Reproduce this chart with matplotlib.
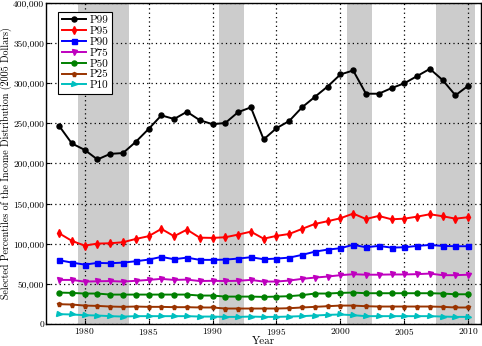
import matplotlib
matplotlib.use('Agg')
from matplotlib import pyplot as plt
from matplotlib.ticker import FuncFormatter
import numpy as np

plt.rcParams['font.family'] = 'serif'
plt.rcParams['font.serif'] = ['cmr10', 'DejaVu Serif']
plt.rcParams['axes.formatter.use_mathtext'] = True

years = list(range(1978, 2011))

p99 = [247000, 225000, 217000, 205000, 212000, 213000, 227000, 243000, 260000, 255500, 264500,
       254000, 249000, 250500, 264000, 270000, 230000, 244000, 253000, 270000, 283000, 296000,
       311000, 316000, 287000, 287000, 294000, 300000, 309000, 318000, 304000, 285000, 297000]
p95 = [113000, 103500, 97600, 100100, 100500, 101800, 105900, 109300, 118400, 109300, 117500,
       107500, 107200, 108000, 111300, 115000, 106200, 109700, 112100, 118400, 124600, 128000,
       131700, 137500, 130800, 134600, 130400, 131200, 133700, 136700, 134200, 131200, 133000]
p90 = [79400, 76400, 73900, 76000, 75600, 76400, 78100, 80100, 83500, 80600, 82600,
       79800, 79800, 80100, 81400, 83100, 80600, 81400, 82600, 86000, 90000, 92600,
       94300, 98600, 95500, 97200, 95100, 95500, 97200, 98400, 97200, 96800, 96800]
p75 = [54800, 54800, 52700, 53100, 53400, 52700, 53700, 54800, 56100, 54800, 55200,
       53400, 53700, 53400, 53700, 54800, 52700, 52800, 54000, 56100, 57700, 59000,
       60700, 61900, 61300, 61300, 61600, 61600, 62000, 62700, 60700, 60700, 61300]
p50 = [39000, 38600, 37800, 37800, 36500, 36500, 36500, 36500, 36500, 36500, 36500,
       35300, 35300, 34000, 34000, 34000, 33600, 34000, 34500, 35800, 37800, 37800,
       38600, 39000, 38200, 38200, 38200, 38200, 38200, 38200, 37800, 36900, 36900]
p25 = [24500, 24100, 22800, 22400, 21600, 21200, 21600, 21200, 21200, 20800, 20800,
       20400, 20400, 19100, 19100, 19100, 19100, 19100, 19500, 20400, 21200, 22000,
       22800, 22800, 22000, 21600, 21600, 21600, 21600, 21600, 21200, 20400, 20400]
p10 = [12100, 11700, 10800, 10400, 9600, 9100, 9600, 9600, 9600, 9600, 9600,
       9100, 9100, 8700, 8700, 9100, 8700, 8700, 9100, 9600, 10400, 11200,
       11700, 10800, 9600, 9600, 9600, 9600, 9600, 9600, 9100, 8700, 8700]

recessions = [(1979.5, 1983.5), (1990.5, 1992.5), (2000.5, 2002.5), (2007.5, 2010.5)]

series = [('P99', p99, 'k', 'o'),
          ('P95', p95, '#ff0000', 'd'),
          ('P90', p90, '#0000ff', 's'),
          ('P75', p75, '#bf00bf', 'v'),
          ('P50', p50, '#008000', 'o'),
          ('P25', p25, '#993300', 'p'),
          ('P10', p10, '#00bfbf', '>')]

fig = plt.figure(figsize=(4.82, 3.46), dpi=100)
ax = fig.add_axes([0.096, 0.064, 0.902, 0.927])

for a, b in recessions:
    ax.axvspan(a, b, color='#cccccc', lw=0, zorder=0)

for name, vals, col, mk in series:
    ax.plot(years, vals, color=col, marker=mk, ms=3.6, lw=1.4, label=name, zorder=3)

ax.set_xlim(1977, 2011)
ax.set_ylim(0, 400000)
ax.set_xticks([1980, 1985, 1990, 1995, 2000, 2005, 2010])
ax.set_yticks(np.arange(0, 400001, 50000))
ax.yaxis.set_major_formatter(FuncFormatter(lambda v, p: '{:,.0f}'.format(v)))
ax.grid(True, color='k', linestyle=(0, (1, 2.5)), lw=0.9, zorder=1)
ax.set_axisbelow(False)
ax.tick_params(direction='in', labelsize=6.8, length=3, pad=1.5)
ax.set_xlabel('Year', fontsize=8, labelpad=0)
ax.xaxis.set_label_coords(0.5, -0.04)
ax.set_ylabel('Selected Percentiles of the Income Distribution (2005 Dollars)', fontsize=7.2)
ax.yaxis.set_label_coords(-0.079, 0.5)
for s in ax.spines.values():
    s.set_linewidth(1.0)

leg = ax.legend(loc='upper left', bbox_to_anchor=(0.015, 0.99), fontsize=8, fancybox=False,
                framealpha=1, edgecolor='k', handlelength=2.2, labelspacing=0.1,
                borderpad=0.3, handletextpad=0.3)
leg.get_frame().set_linewidth(0.8)

fig.savefig('out.png', dpi=100)
